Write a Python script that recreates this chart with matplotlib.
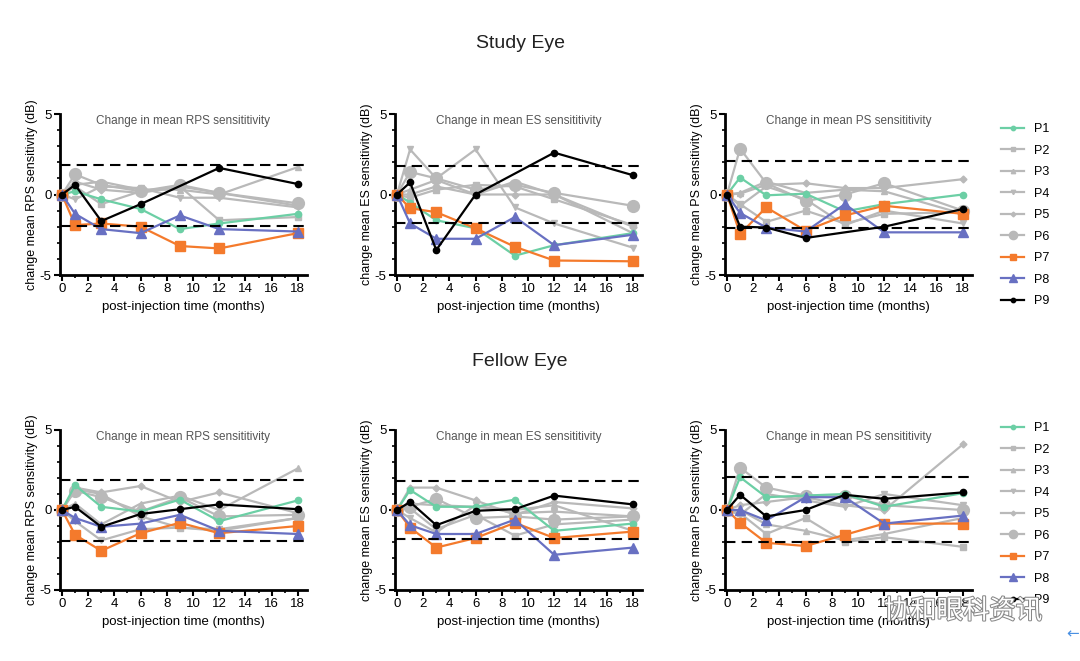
import numpy as np
import matplotlib.pyplot as plt
import matplotlib.patheffects as pe

plt.rcParams['font.family'] = ['Liberation Sans', 'DejaVu Sans']
plt.rcParams['axes.unicode_minus'] = False

months = [0, 1, 3, 6, 9, 12, 18]
patients = ['P1', 'P2', 'P3', 'P4', 'P5', 'P6', 'P7', 'P8', 'P9']
nan = np.nan

# study eye
study_rps = {
    'P1': [0, 0.2, -0.3, -0.9, -2.15, -1.8, -1.2],
    'P2': [0, 0.5, -0.6, 0.2, 0.5, -1.6, -1.4],
    'P3': [0, 0.6, 0.8, 0.3, 0.3, 0.0, 1.7],
    'P4': [0, -0.3, 0.5, 0.4, -0.2, -0.2, -0.8],
    'P5': [0, 0.8, 0.3, 0.1, 0.5, 0.1, -0.7],
    'P6': [0, 1.25, 0.6, 0.2, 0.6, 0.1, -0.55],
    'P7': [0, -1.9, -1.8, -2.0, -3.2, -3.35, -2.4],
    'P8': [0, -1.2, -2.15, -2.4, -1.3, -2.15, -2.3],
    'P9': [0, 0.6, -1.65, -0.6, nan, 1.65, 0.65],
}
study_es = {
    'P1': [0, -0.5, -1.6, -2.1, -3.8, -3.15, -2.4],
    'P2': [0, -0.2, 0.3, 0.6, 0.5, -0.3, -1.9],
    'P3': [0, 0.3, 0.9, 0.0, 0.8, 0.0, -2.4],
    'P4': [0, 2.8, 1.0, 2.8, -0.8, -1.8, -3.3],
    'P5': [0, 0.0, 0.5, 0.0, 0.0, 0.0, -2.0],
    'P6': [0, 1.4, 1.0, 0.3, 0.6, 0.1, -0.7],
    'P7': [0, -0.85, -1.1, -2.1, -3.25, -4.1, -4.15],
    'P8': [0, -1.8, -2.75, -2.75, -1.4, -3.15, -2.5],
    'P9': [0, 0.75, -3.45, 0.0, nan, 2.6, 1.2],
}
study_ps = {
    'P1': [0, 1.05, -0.05, 0.05, -1.05, -0.6, 0.0],
    'P2': [0, -0.6, -1.7, -1.0, -1.8, -1.2, -1.1],
    'P3': [0, 0.1, 0.8, 0.1, 0.3, 0.2, -1.2],
    'P4': [0, -0.7, 0.5, -0.3, -1.9, -1.0, -1.8],
    'P5': [0, 0.05, 0.6, 0.7, 0.4, 0.4, 0.95],
    'P6': [0, 2.85, 0.7, -0.4, 0.0, 0.7, -1.0],
    'P7': [0, -2.45, -0.8, -2.25, -1.3, -0.7, -1.2],
    'P8': [0, -1.15, -2.05, -2.3, -0.6, -2.35, -2.35],
    'P9': [0, -2.0, -2.05, -2.7, nan, -2.0, -0.9],
}

# fellow eye
fellow_rps = {
    'P1': [0, 1.55, 0.2, -0.1, 0.65, -0.7, 0.6],
    'P2': [0, 1.3, 1.0, -0.4, -1.1, -1.3, -0.5],
    'P3': [0, 0.4, -0.9, 0.4, 0.9, 0.0, 2.6],
    'P4': [0, -0.7, -1.9, -1.2, -1.1, -1.2, -0.5],
    'P5': [0, 1.4, 1.1, 1.5, 0.5, 1.1, -0.2],
    'P6': [0, 1.2, 0.8, -0.1, 0.8, -0.4, -0.3],
    'P7': [0, -1.55, -2.55, -1.45, -0.8, -1.45, -1.0],
    'P8': [0, -0.5, -1.05, -0.85, -0.3, -1.3, -1.5],
    'P9': [0, 0.2, -1.05, -0.25, 0.05, 0.35, 0.05],
}
fellow_es = {
    'P1': [0, 1.25, 0.2, 0.2, 0.65, -1.3, -0.85],
    'P2': [0, 0.1, -1.2, -0.3, -1.6, -0.9, -0.6],
    'P3': [0, 0.4, 0.3, 0.2, 0.0, 0.3, -1.3],
    'P4': [0, -0.5, -1.4, 0.3, -0.2, -0.1, -0.4],
    'P5': [0, 1.4, 1.4, 0.6, -0.3, 0.5, 0.1],
    'P6': [0, 0.2, 0.7, -0.5, -0.4, -0.6, -0.4],
    'P7': [0, -1.1, -2.35, -1.75, -0.8, -1.75, -1.35],
    'P8': [0, -0.95, -1.5, -1.5, -0.6, -2.8, -2.35],
    'P9': [0, 0.5, -0.95, -0.05, 0.05, 0.9, 0.35],
}
fellow_ps = {
    'P1': [0, 2.05, 0.8, 0.9, 1.0, 0.2, 1.05],
    'P2': [0, -0.2, -1.5, -0.5, -2.0, -1.7, -2.3],
    'P3': [0, 0.0, -0.9, -1.3, -1.9, -1.5, -0.5],
    'P4': [0, -0.3, 1.0, 0.6, 0.2, 1.0, 0.3],
    'P5': [0, 0.3, 0.5, 0.8, 0.3, 0.0, 4.1],
    'P6': [0, 2.65, 1.4, 0.9, 0.9, 0.3, 0.0],
    'P7': [0, -0.8, -2.05, -2.25, -1.55, -0.85, -0.85],
    'P8': [0, 0.0, -0.65, 0.8, 0.8, -0.85, -0.35],
    'P9': [0, 0.95, -0.4, 0.0, 0.95, 0.7, 1.1],
}

thresholds = [1.85, 1.8, 2.05]
lower_thresholds = [-1.95, -1.8, -2.05]
fellow_thresholds = [1.85, 1.8, 2.05]
fellow_lower = [-1.95, -1.8, -2.0]

titles = ['Change in mean RPS sensititivity', 'Change in mean ES sensititivity',
          'Change in mean PS sensititivity']
ylabels = ['change mean RPS sensitivity (dB)', 'change mean ES sensitivity (dB)',
           'change mean PS sensitivity (dB)']

gray = '#b9b9b9'
style = {
    'P1': dict(color='#6ccfa5', marker='o', ms=4.5),
    'P2': dict(color=gray, marker='s', ms=4.5),
    'P3': dict(color=gray, marker='^', ms=4.5),
    'P4': dict(color=gray, marker='v', ms=4.5),
    'P5': dict(color=gray, marker='D', ms=3.5),
    'P6': dict(color=gray, marker='o', ms=8.5),
    'P7': dict(color='#f47a2c', marker='s', ms=7),
    'P8': dict(color='#6870c2', marker='^', ms=7.5),
    'P9': dict(color='black', marker='o', ms=4.5),
}
zorders = {'P1': 4, 'P7': 5, 'P8': 6, 'P9': 7}

fig = plt.figure(figsize=(10.8, 6.61), dpi=100)
W, H = 1080, 661
lefts = [60, 395, 725]
rows = [(114, 275, 112, [study_rps, study_es, study_ps], thresholds, lower_thresholds),
        (430, 590, 411, [fellow_rps, fellow_es, fellow_ps], fellow_thresholds, fellow_lower)]

for top, bot, leg_top, datasets, up, lo in rows:
    for i, data in enumerate(datasets):
        ax = fig.add_axes([lefts[i] / W, 1 - bot / H, 247 / W, (bot - top) / H])
        for p in patients:
            y = np.array(data[p], dtype=float)
            x = np.array(months, dtype=float)
            ok = ~np.isnan(y)
            ax.plot(x[ok], y[ok], lw=1.6, label=p, mec=style[p]['color'],
                    zorder=zorders.get(p, 3), clip_on=False, **style[p])
        ax.axhline(up[i], color='black', lw=1.5, ls=(0, (5, 3)), zorder=8)
        ax.axhline(lo[i], color='black', lw=1.5, ls=(0, (5, 3)), zorder=8)
        ax.set_xlim(-0.15, 18.7)
        ax.set_ylim(-5, 5)
        ax.set_xticks(range(0, 19, 2))
        ax.set_xticks(range(0, 19), minor=True)
        ax.set_yticks([-5, 0, 5])
        ax.set_yticks(range(-5, 6), minor=True)
        for s in ['top', 'right']:
            ax.spines[s].set_visible(False)
        for s in ['left', 'bottom']:
            ax.spines[s].set_linewidth(2)
        ax.tick_params(which='major', length=4, width=1.5, labelsize=9.5, pad=2)
        ax.tick_params(which='minor', length=2.5, width=1.2)
        ax.text(0.5, 0.995, titles[i], transform=ax.transAxes, ha='center', va='top',
                fontsize=8.5, color='#555555')
        ax.set_ylabel(ylabels[i], fontsize=9, labelpad=1)
        ax.set_xlabel('post-injection time (months)', fontsize=9.5, labelpad=4)
    handles, labels = ax.get_legend_handles_labels()
    fig.legend(handles, labels, loc='upper left', frameon=False,
               bbox_to_anchor=(990 / W, 1 - leg_top / H), fontsize=9,
               handlelength=1.8, labelspacing=0.76, markerscale=0.7)

fig.text(520 / W, 1 - 43 / H, 'Study Eye', ha='center', va='center', fontsize=14, color='#222222')
fig.text(520 / W, 1 - 362 / H, 'Fellow Eye', ha='center', va='center', fontsize=14, color='#222222')

# watermark
fig.text(963 / W, 1 - 611 / H, '协和眼科资讯', ha='center', va='center', fontsize=19,
         color='white', family=['Noto Sans CJK SC', 'DejaVu Sans'], zorder=20,
         path_effects=[pe.withStroke(linewidth=1.5, foreground='#888888')])
fig.text(1073 / W, 1 - 634 / H, '←', ha='center', va='center', fontsize=11,
         color='#4a90e2', family='DejaVu Sans')

fig.savefig('out.png', dpi=100)
